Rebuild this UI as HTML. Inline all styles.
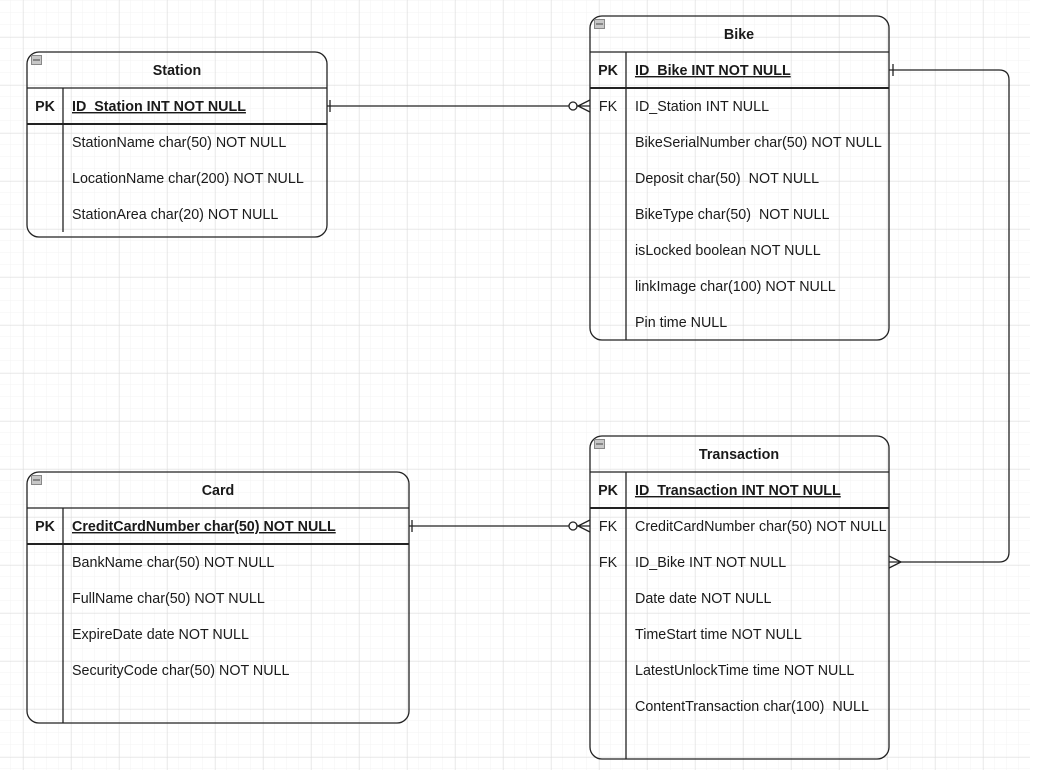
<!DOCTYPE html>
<html><head><meta charset="utf-8"><style>
html,body{margin:0;padding:0;background:#fff}
svg{display:block}
text{font-family:"Liberation Sans",Arial,sans-serif;font-size:14.3px;fill:#1a1a1a;white-space:pre}
.b{font-weight:bold}
</style></head><body>
<svg width="1046" height="770" xmlns="http://www.w3.org/2000/svg">
<defs>
<pattern id="mi" width="12" height="12" patternUnits="userSpaceOnUse" x="11" y="1">
<path d="M12 0V12M0 12H12" stroke="#f3f3f3" stroke-width="1" fill="none"/>
</pattern>
<pattern id="ma" width="48" height="48" patternUnits="userSpaceOnUse" x="23.5" y="37.5">
<path d="M0 0V48M0 0H48" stroke="#dcdcdc" stroke-width="1" fill="none"/>
</pattern>
</defs>
<rect width="1030" height="770" fill="url(#mi)"/>
<rect width="1030" height="770" fill="url(#ma)"/>

<g fill="none" stroke="#222" stroke-width="1.3">
<rect x="27" y="52" width="300" height="185" rx="12"/>
<line x1="27" y1="88" x2="327" y2="88"/>
<line x1="27" y1="124" x2="327" y2="124" stroke-width="2"/>
<line x1="63" y1="88" x2="63" y2="232"/>
<rect x="590" y="16" width="299" height="324" rx="12"/>
<line x1="590" y1="52" x2="889" y2="52"/>
<line x1="590" y1="88" x2="889" y2="88" stroke-width="2"/>
<line x1="626" y1="52" x2="626" y2="340"/>
<rect x="590" y="436" width="299" height="323" rx="12"/>
<line x1="590" y1="472" x2="889" y2="472"/>
<line x1="590" y1="508" x2="889" y2="508" stroke-width="2"/>
<line x1="626" y1="472" x2="626" y2="759"/>
<rect x="27" y="472" width="382" height="251" rx="12"/>
<line x1="27" y1="508" x2="409" y2="508"/>
<line x1="27" y1="544" x2="409" y2="544" stroke-width="2"/>
<line x1="63" y1="508" x2="63" y2="723"/>

<path d="M327 106H590"/>
<line x1="330" y1="100" x2="330" y2="112"/>
<circle cx="573" cy="106" r="4" fill="#fff"/>
<path d="M590 100L578 106L590 112"/>
<path d="M409 526H590"/>
<line x1="412" y1="520" x2="412" y2="532"/>
<circle cx="573" cy="526" r="4" fill="#fff"/>
<path d="M590 520L578 526L590 532"/>
<path d="M889 70H999Q1009 70 1009 80V552Q1009 562 999 562H889"/>
<line x1="893" y1="64" x2="893" y2="76"/>
<path d="M889 556L901 562L889 568"/>
</g>
<g fill="#c8c8c8" stroke="#888" stroke-width="1">
<rect x="31.5" y="55.5" width="10" height="9"/><rect x="594.5" y="19.5" width="10" height="9"/>
<rect x="594.5" y="439.5" width="10" height="9"/><rect x="31.5" y="475.5" width="10" height="9"/>
</g>
<g stroke="#444"><line x1="33" y1="60" x2="40" y2="60"/><line x1="596" y1="24" x2="603" y2="24"/><line x1="596" y1="444" x2="603" y2="444"/><line x1="33" y1="480" x2="40" y2="480"/></g>

<g text-anchor="middle">
<text x="177" y="75" class="b">Station</text>
<text x="739" y="39" class="b">Bike</text>
<text x="739" y="459" class="b">Transaction</text>
<text x="218" y="495" class="b">Card</text>
<text x="45" y="111" class="b">PK</text>
<text x="608" y="75" class="b">PK</text>
<text x="608" y="495" class="b">PK</text>
<text x="45" y="531" class="b">PK</text>
<text x="608" y="111">FK</text>
<text x="608" y="531">FK</text>
<text x="608" y="567">FK</text>
</g>

<text x="72" y="111" class="b" text-decoration="underline">ID_Station INT NOT NULL</text>
<text x="72" y="147">StationName char(50) NOT NULL</text>
<text x="72" y="183">LocationName char(200) NOT NULL</text>
<text x="72" y="219">StationArea char(20) NOT NULL</text>

<text x="635" y="75" class="b" text-decoration="underline">ID_Bike INT NOT NULL</text>
<text x="635" y="111">ID_Station INT NULL</text>
<text x="635" y="147">BikeSerialNumber char(50) NOT NULL</text>
<text x="635" y="183">Deposit char(50)  NOT NULL</text>
<text x="635" y="219">BikeType char(50)  NOT NULL</text>
<text x="635" y="255">isLocked boolean NOT NULL</text>
<text x="635" y="291">linkImage char(100) NOT NULL</text>
<text x="635" y="327">Pin time NULL</text>

<text x="635" y="495" class="b" text-decoration="underline">ID_Transaction INT NOT NULL</text>
<text x="635" y="531">CreditCardNumber char(50) NOT NULL</text>
<text x="635" y="567">ID_Bike INT NOT NULL</text>
<text x="635" y="603">Date date NOT NULL</text>
<text x="635" y="639">TimeStart time NOT NULL</text>
<text x="635" y="675">LatestUnlockTime time NOT NULL</text>
<text x="635" y="711">ContentTransaction char(100)  NULL</text>

<text x="72" y="531" class="b" text-decoration="underline">CreditCardNumber char(50) NOT NULL</text>
<text x="72" y="567">BankName char(50) NOT NULL</text>
<text x="72" y="603">FullName char(50) NOT NULL</text>
<text x="72" y="639">ExpireDate date NOT NULL</text>
<text x="72" y="675">SecurityCode char(50) NOT NULL</text>
</svg>
</body></html>
